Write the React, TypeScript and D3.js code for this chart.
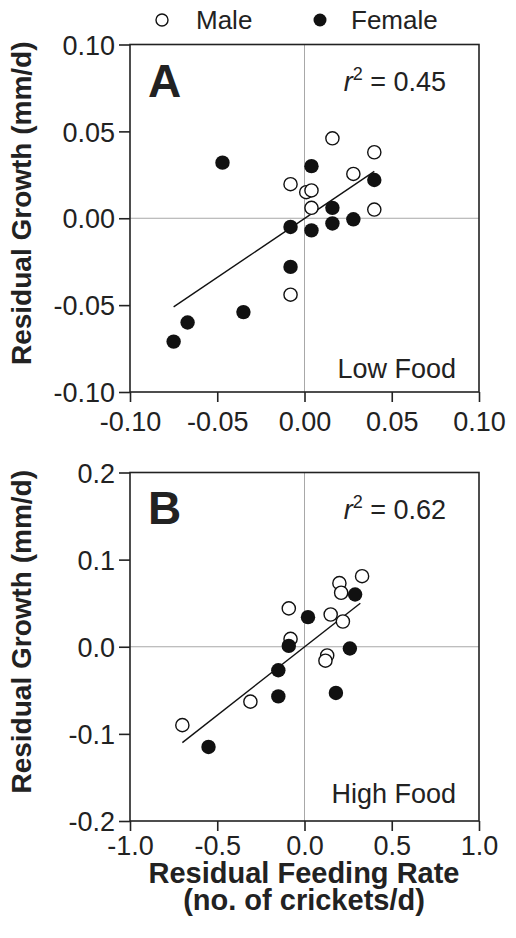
import React, { useRef, useEffect } from 'react';
import * as d3 from 'd3';

// Panel A - low food
const maleAx = [0.016, 0.040, 0.028, -0.008, 0.001, 0.004, 0.004, 0.040, -0.008];
const maleAy = [0.046, 0.038, 0.0255, 0.0196, 0.015, 0.016, 0.006, 0.005, -0.044];
const femaleAx = [-0.047, 0.004, 0.040, 0.016, -0.008, 0.004, 0.016, 0.028, -0.008, -0.035, -0.067, -0.075];
const femaleAy = [0.032, 0.030, 0.022, 0.006, -0.005, -0.007, -0.003, -0.0006, -0.028, -0.054, -0.060, -0.071];
const fitAx = [-0.075, 0.040];
const fitAy = [-0.051, 0.027];

// Panel B - high food
const maleBx = [0.33, 0.20, 0.21, -0.09, 0.15, 0.22, -0.08, 0.13, 0.12, -0.31, -0.70];
const maleBy = [0.081, 0.073, 0.062, 0.044, 0.037, 0.029, 0.009, -0.010, -0.016, -0.063, -0.090];
const femaleBx = [0.29, 0.02, -0.09, 0.26, -0.15, -0.15, 0.18, -0.55];
const femaleBy = [0.060, 0.034, 0.001, -0.002, -0.027, -0.057, -0.053, -0.115];
const fitBx = [-0.70, 0.32];
const fitBy = [-0.110, 0.050];

const ticksA = [-0.10, -0.05, 0.00, 0.05, 0.10];
const ticksBx = [-1.0, -0.5, 0.0, 0.5, 1.0];
const ticksBy = [-0.2, -0.1, 0.0, 0.1, 0.2];

const legendLabels = ['Male', 'Female'];

const FONT = '"Liberation Sans", Arial, sans-serif';
const INK = '#222';

const App = () => {
    const chartRef = useRef(null);

    useEffect(() => {
        const svg = d3.select(chartRef.current);
        svg.selectAll('*').remove();

        const left = 130, right = 479;

        const panels = [
            {
                top: 44.5, bottom: 392, letter: 'A', r2: '0.45', food: 'Low Food',
                xDom: [-0.10, 0.10], yDom: [-0.10, 0.10], xTicks: ticksA, yTicks: ticksA, dec: 2,
                mx: maleAx, my: maleAy, fx: femaleAx, fy: femaleAy, lx: fitAx, ly: fitAy,
                letterY: 97, r2Y: 91, foodY: 378, xLabY: 431,
            },
            {
                top: 472.5, bottom: 821, letter: 'B', r2: '0.62', food: 'High Food',
                xDom: [-1, 1], yDom: [-0.2, 0.2], xTicks: ticksBx, yTicks: ticksBy, dec: 1,
                mx: maleBx, my: maleBy, fx: femaleBx, fy: femaleBy, lx: fitBx, ly: fitBy,
                letterY: 524, r2Y: 519, foodY: 803, xLabY: 855,
            },
        ];

        panels.forEach(p => {
            const x = d3.scaleLinear().domain(p.xDom).range([left, right]);
            const y = d3.scaleLinear().domain(p.yDom).range([p.bottom, p.top]);
            const g = svg.append('g');

            // zero reference lines
            g.append('line')
                .attr('x1', x(0)).attr('x2', x(0))
                .attr('y1', p.top).attr('y2', p.bottom)
                .attr('stroke', '#a8a8a8').attr('stroke-width', 1);
            g.append('line')
                .attr('x1', left).attr('x2', right)
                .attr('y1', y(0)).attr('y2', y(0))
                .attr('stroke', '#a8a8a8').attr('stroke-width', 1);

            // frame
            g.append('rect')
                .attr('x', left).attr('y', p.top)
                .attr('width', right - left).attr('height', p.bottom - p.top)
                .attr('fill', 'none').attr('stroke', INK).attr('stroke-width', 1.6);

            // axes
            const fmt = (d: number) => d.toFixed(p.dec);
            const xAxis = g.append('g')
                .attr('transform', `translate(0,${p.bottom})`)
                .call(d3.axisBottom(x).tickValues(p.xTicks).tickSize(10).tickSizeOuter(0).tickFormat(fmt as any));
            const yAxis = g.append('g')
                .attr('transform', `translate(${left},0)`)
                .call(d3.axisLeft(y).tickValues(p.yTicks).tickSize(11).tickSizeOuter(0).tickFormat(fmt as any));
            [xAxis, yAxis].forEach(a => {
                a.select('.domain').remove();
                a.selectAll('line').attr('stroke', INK).attr('stroke-width', 1.6);
                a.selectAll('text')
                    .attr('font-family', FONT).attr('font-size', 27).attr('fill', INK);
            });
            xAxis.selectAll('text').attr('y', p.xLabY - p.bottom).attr('dy', 0);
            yAxis.selectAll('text').attr('x', -15).attr('dy', '0.36em');

            // fit line
            g.append('line')
                .attr('x1', x(p.lx[0])).attr('y1', y(p.ly[0]))
                .attr('x2', x(p.lx[1])).attr('y2', y(p.ly[1]))
                .attr('stroke', '#111').attr('stroke-width', 1.4);

            // points
            g.selectAll('.male')
                .data(p.mx)
                .enter().append('circle')
                .attr('cx', d => x(d))
                .attr('cy', (d, i) => y(p.my[i]))
                .attr('r', 6.6)
                .attr('fill', '#fff').attr('stroke', '#111').attr('stroke-width', 1.4);
            g.selectAll('.female')
                .data(p.fx)
                .enter().append('circle')
                .attr('cx', d => x(d))
                .attr('cy', (d, i) => y(p.fy[i]))
                .attr('r', 7.2)
                .attr('fill', '#111');

            // panel letter
            g.append('text')
                .attr('x', 148).attr('y', p.letterY)
                .attr('font-family', FONT).attr('font-weight', 'bold').attr('font-size', 46)
                .attr('fill', INK).text(p.letter);

            // r squared
            const r2 = g.append('text')
                .attr('x', 446).attr('y', p.r2Y)
                .attr('text-anchor', 'end')
                .attr('font-family', FONT).attr('font-size', 27).attr('fill', INK);
            r2.append('tspan').attr('font-style', 'italic').text('r');
            r2.append('tspan').attr('font-size', 18).attr('dy', -11).text('2');
            r2.append('tspan').attr('dy', 11).text(` = ${p.r2}`);

            // food label
            g.append('text')
                .attr('x', 456).attr('y', p.foodY)
                .attr('text-anchor', 'end')
                .attr('font-family', FONT).attr('font-size', 27).attr('fill', INK)
                .text(p.food);

            // y axis title
            g.append('text')
                .attr('transform', `translate(31,${(p.top + p.bottom) / 2 - 15}) rotate(-90)`)
                .attr('text-anchor', 'middle')
                .attr('font-family', FONT).attr('font-weight', 'bold').attr('font-size', 28)
                .attr('fill', INK)
                .text('Residual Growth (mm/d)');
        });

        // x axis title
        const xt = svg.append('text')
            .attr('text-anchor', 'middle')
            .attr('font-family', FONT).attr('font-weight', 'bold').attr('font-size', 29)
            .attr('fill', INK);
        xt.append('tspan').attr('x', 304).attr('y', 883).text('Residual Feeding Rate');
        xt.append('tspan').attr('x', 304).attr('y', 910).text('(no. of crickets/d)');

        // legend
        const legend = svg.append('g').attr('class', 'legend');
        legend.append('circle')
            .attr('cx', 162).attr('cy', 20).attr('r', 6)
            .attr('fill', '#fff').attr('stroke', '#111').attr('stroke-width', 1.4);
        legend.append('circle')
            .attr('cx', 320).attr('cy', 20).attr('r', 6.5)
            .attr('fill', '#111');
        legend.append('text')
            .attr('x', 196).attr('y', 29)
            .attr('font-family', FONT).attr('font-size', 26).attr('fill', INK)
            .text(legendLabels[0]);
        legend.append('text')
            .attr('x', 351).attr('y', 29)
            .attr('font-family', FONT).attr('font-size', 26).attr('fill', INK)
            .text(legendLabels[1]);
    }, []);

    return (
        <svg
            ref={chartRef}
            width={516}
            height={938}
            style={{ position: 'absolute', left: 0, top: 0, background: '#fff' }}
        />
    );
};

export default App;
